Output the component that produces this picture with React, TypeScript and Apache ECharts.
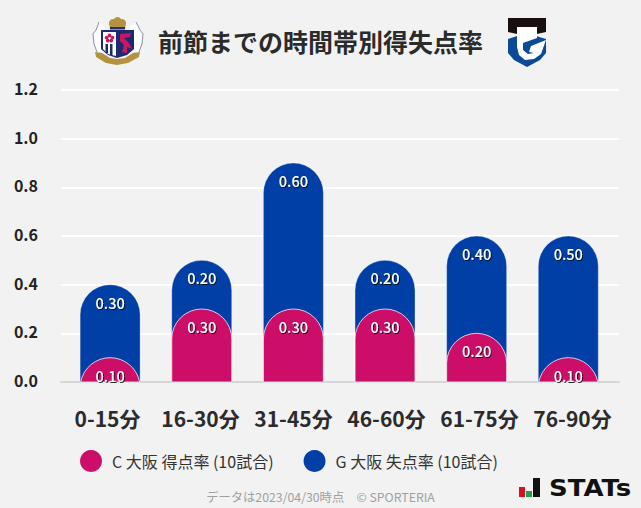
import React, { useEffect, useRef } from "react";
import * as echarts from "echarts";

const categories = ["0-15分", "16-30分", "31-45分", "46-60分", "61-75分", "76-90分"];
const cerezoRates = [0.1, 0.3, 0.3, 0.3, 0.2, 0.1];
const gambaRates = [0.3, 0.2, 0.6, 0.2, 0.4, 0.5];
const cerezoName = "C 大阪 得点率 (10試合)";
const gambaName = "G 大阪 失点率 (10試合)";
const titleText = "前節までの時間帯別得失点率";
const footerText = "データは2023/04/30時点　© SPORTERIA";
const yTicks = [0, 0.2, 0.4, 0.6, 0.8, 1.0, 1.2];

const FONT = '"Noto Sans CJK JP", "Noto Sans", sans-serif';
const PINK = "#cd0e69";
const BLUE = "#003fa5";
const BAR_W = 60;
const RADIUS = 30;

const poly = (points: number[][], fill: string) => ({ type: "polygon", shape: { points }, style: { fill } });
const rect = (x: number, y: number, width: number, height: number, fill: string) => ({
  type: "rect",
  shape: { x, y, width, height },
  style: { fill },
});
const dot = (cx: number, cy: number, r: number, fill: string) => ({
  type: "circle",
  shape: { cx, cy, r },
  style: { fill },
});

const cerezoLogo = () => ({
  type: "group",
  silent: true,
  children: [
    // supporters
    poly([[99, 22], [103, 25], [107, 30], [103, 34], [101, 44], [102, 52], [97, 52], [94, 44], [93, 34], [96, 30]], "#ffffff"),
    poly([[136, 22], [132, 25], [128, 30], [132, 34], [135, 44], [134, 52], [139, 52], [142, 44], [143, 34], [140, 30]], "#ffffff"),
    { type: "polyline", shape: { points: [[99, 22], [96, 30], [93, 34], [94, 44], [97, 52]] }, style: { stroke: "#8a8fb0", fill: "none", lineWidth: 1 } },
    { type: "polyline", shape: { points: [[136, 22], [140, 30], [143, 34], [142, 44], [139, 52]] }, style: { stroke: "#8a8fb0", fill: "none", lineWidth: 1 } },
    // crown
    dot(113, 23, 4, "#b5923f"),
    dot(122, 23, 4, "#b5923f"),
    dot(117.5, 21, 4, "#b5923f"),
    poly([[109, 22], [126, 22], [125, 29], [110, 29]], "#b5923f"),
    rect(110, 27, 15, 2.5, "#2a2f6f"),
    // shield
    poly([[101, 30], [134, 30], [134, 49], [127, 55], [117, 58], [108, 55], [101, 49]], "#1d2a72"),
    poly([[103, 32], [116, 32], [116, 56], [108, 54], [103, 49]], "#ffffff"),
    rect(105.5, 44, 2.5, 9, "#1d2a72"),
    rect(110, 44, 2.5, 11, "#1d2a72"),
    dot(109.5, 35.5, 1.9, "#c4145f"),
    dot(106.6, 37.6, 1.9, "#c4145f"),
    dot(112.4, 37.6, 1.9, "#c4145f"),
    dot(107.8, 40.6, 1.9, "#c4145f"),
    dot(111.2, 40.6, 1.9, "#c4145f"),
    dot(109.5, 38.2, 0.9, "#ffffff"),
    poly([[120, 34], [131, 33], [130, 37], [124, 38], [129, 43], [132, 49], [127, 47], [127, 53], [122, 52], [124, 45], [120, 41]], "#c8185f"),
    // ribbon
    poly([[95, 52], [102, 53], [110, 58], [117, 59], [125, 58], [133, 53], [140, 52], [139, 57], [128, 63], [117, 65], [106, 63], [96, 57]], "#b5923f"),
  ],
});

const gambaLogo = () => ({
  type: "group",
  silent: true,
  children: [
    poly([[508, 18], [546, 18], [546, 32], [537, 34], [537, 27], [517, 27], [517, 34], [508, 32]], "#17100f"),
    poly([[508, 39], [517, 36], [536, 36], [546, 39], [546, 53], [540, 60], [527, 67], [514, 60], [508, 53]], "#0b4a96"),
    poly([[517, 27], [537, 27], [537, 38], [523, 43], [523, 50], [528, 54], [534, 53], [529, 52], [531, 46], [546, 40], [541, 54], [534, 59], [525, 60], [519, 55], [517, 47]], "#ffffff"),
  ],
});

const statsLogo = () => ({
  type: "group",
  silent: true,
  children: [
    rect(519, 487, 6, 10, "#d7101d"),
    rect(526, 491, 6, 6, "#1ba24a"),
    rect(533, 478, 7, 19, "#111111"),
    {
      type: "text",
      x: 549,
      y: 488,
      scaleX: 1.13,
      style: {
        text: "STATs",
        fill: "#111111",
        font: 'bold 23px "DejaVu Sans"',
        verticalAlign: "middle",
        align: "left",
      },
    },
  ],
});

function barRenderer(color: string, own: number[], border: string) {
  return (params: any, api: any) => {
    const i = api.value(0);
    const [x, y1] = api.coord([i, api.value(1)]);
    const [, y0] = api.coord([i, 0]);
    const h = y0 - y1;
    const hw = BAR_W / 2;
    let d: string;
    if (h >= RADIUS) {
      d = `M${x - hw} ${y0}L${x - hw} ${y1 + RADIUS}A${RADIUS} ${RADIUS} 0 0 1 ${x + hw} ${y1 + RADIUS}L${x + hw} ${y0}Z`;
    } else {
      const w = Math.sqrt(RADIUS * RADIUS - (RADIUS - h) * (RADIUS - h));
      d = `M${x - w} ${y0}A${RADIUS} ${RADIUS} 0 0 1 ${x + w} ${y0}Z`;
    }
    return {
      type: "group",
      children: [
        {
          type: "path",
          shape: { pathData: d },
          style: { fill: color, stroke: border, lineWidth: 1 },
        },
        {
          type: "text",
          x,
          y: y1 + 17.5,
          z2: 10,
          style: {
            text: own[i].toFixed(2),
            fill: "#ffffff",
            font: `500 14.5px ${FONT}`,
            align: "center",
            verticalAlign: "middle",
            textShadowColor: "rgba(0,0,0,0.8)",
            textShadowBlur: 1,
            textShadowOffsetX: 1,
            textShadowOffsetY: 1,
          },
        },
      ],
    };
  };
}

export default function App() {
  const ref = useRef<HTMLDivElement>(null);
  useEffect(() => {
    if (!ref.current) return;
    const chart = echarts.init(ref.current, undefined, { renderer: "svg" });
    const totals = cerezoRates.map((v, i) => v + gambaRates[i]);
    chart.setOption({
      animation: false,
      backgroundColor: "#f2f2f2",
      textStyle: { fontFamily: FONT },
      grid: [
        { left: 61, right: 22, top: 90, height: 292 },
        { left: 64.3, right: 26.9, top: 90, height: 292 },
      ],
      xAxis: [
        {
          type: "category",
          gridIndex: 0,
          data: categories,
          axisTick: { show: false },
          splitLine: { show: false },
          axisLine: { show: true, lineStyle: { color: "#d5d5d5", width: 2 } },
          axisLabel: { color: "#2b2b2b", fontSize: 21, fontWeight: "bold", margin: 25, fontFamily: FONT, interval: 0 },
        },
        {
          type: "category",
          gridIndex: 1,
          data: categories,
          show: false,
        },
      ],
      yAxis: [
        {
          type: "value",
          gridIndex: 0,
          min: 0,
          max: 1.2,
          interval: 0.2,
          axisLine: { show: false },
          axisTick: { show: false },
          axisLabel: {
            margin: 23,
            formatter: (v: number) => `{t|${v.toFixed(1)}}`,
            rich: {
              t: {
                color: "#222222",
                fontSize: 16,
                fontWeight: "bold",
                fontFamily: FONT,
                padding: [0, 0, 4, 0],
              },
            },
          },
          splitLine: {
            show: true,
            lineStyle: { color: "#ffffff", width: 2 },
            showMinLine: false,
          },
        },
        {
          type: "value",
          gridIndex: 1,
          min: yTicks[0],
          max: yTicks[yTicks.length - 1],
          interval: 0.2,
          show: false,
        },
      ],
      legend: {
        left: 75,
        top: 445,
        itemWidth: 22,
        itemHeight: 22,
        itemGap: 30,
        icon: "circle",
        data: [cerezoName, gambaName],
        textStyle: { color: "#333333", fontSize: 16, fontFamily: FONT, padding: [0, 0, 0, 5] },
      },
      series: [
        {
          type: "custom",
          name: gambaName,
          xAxisIndex: 1,
          yAxisIndex: 1,
          z: 2,
          itemStyle: { color: BLUE },
          encode: { x: 0, y: 1 },
          data: totals.map((v, i) => [i, v]),
          renderItem: barRenderer(BLUE, gambaRates, "rgba(255,255,255,0.35)"),
        },
        {
          type: "custom",
          name: cerezoName,
          xAxisIndex: 1,
          yAxisIndex: 1,
          z: 3,
          itemStyle: { color: PINK },
          encode: { x: 0, y: 1 },
          data: cerezoRates.map((v, i) => [i, v]),
          renderItem: barRenderer(PINK, cerezoRates, "rgba(255,255,255,0.75)"),
        },
      ],
      graphic: [
        {
          type: "text",
          x: 158,
          y: 41,
          style: {
            text: titleText,
            fill: "#2b2b2b",
            font: `bold 25px ${FONT}`,
            verticalAlign: "middle",
            align: "left",
          },
        },
        {
          type: "text",
          x: 320.5,
          y: 497,
          style: {
            text: footerText,
            fill: "#a0a0a0",
            font: `12.3px ${FONT}`,
            verticalAlign: "middle",
            align: "center",
          },
        },
        cerezoLogo(),
        gambaLogo(),
        statsLogo(),
      ],
    });
    return () => chart.dispose();
  }, []);
  return <div ref={ref} style={{ position: "fixed", left: 0, top: 0, width: 641, height: 508 }} />;
}
